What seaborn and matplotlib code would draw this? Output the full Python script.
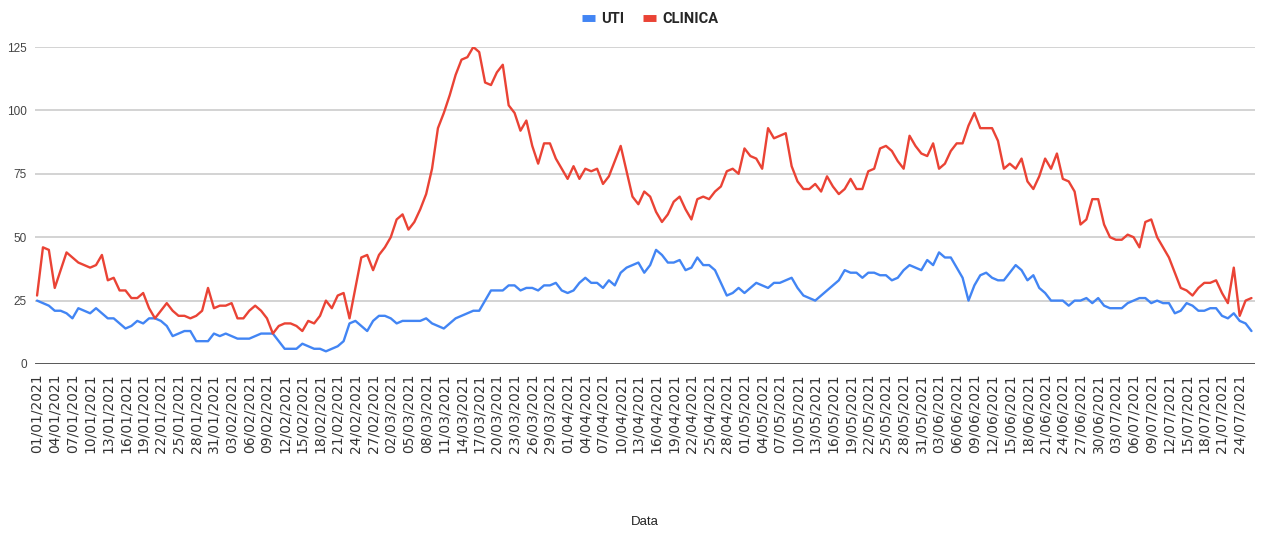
import matplotlib
matplotlib.use("Agg")
import pandas as pd
import matplotlib.pyplot as plt
from matplotlib.lines import Line2D
import seaborn as sns

# série diária a partir de 01/01/2021
INICIO = "2021-01-01"

uti = [
    25, 24, 23, 21, 21, 20, 18, 22, 21, 20, 22, 20, 18, 18, 16, 14, 15, 17, 16, 18,
    18, 17, 15, 11, 12, 13, 13, 9, 9, 9, 12, 11, 12, 11, 10, 10, 10, 11, 12, 12,
    12, 9, 6, 6, 6, 8, 7, 6, 6, 5, 6, 7, 9, 16, 17, 15, 13, 17, 19, 19, 18,
    16, 17, 17, 17, 17, 18, 16, 15, 14, 16, 18, 19, 20, 21, 21, 25, 29, 29, 29, 31, 31,
    29, 30, 30, 29, 31, 31, 32, 29, 28, 29, 32, 34, 32, 32, 30, 33, 31, 36, 38, 39,
    40, 36, 39, 45, 43, 40, 40, 41, 37, 38, 42, 39, 39, 37, 32, 27, 28, 30, 28, 30,
    32, 31, 30, 32, 32, 33, 34, 30, 27, 26, 25, 27, 29, 31, 33, 37, 36, 36, 34, 36,
    36, 35, 35, 33, 34, 37, 39, 38, 37, 41, 39, 44, 42, 42, 38, 34, 25, 31, 35, 36,
    34, 33, 33, 36, 39, 37, 33, 35, 30, 28, 25, 25, 25, 23, 25, 25, 26, 24, 26, 23,
    22, 22, 22, 24, 25, 26, 26, 24, 25, 24, 24, 20, 21, 24, 23, 21, 21, 22, 22, 19,
    18, 20, 17, 16, 13,
]

clinica = [
    27, 46, 45, 30, 37, 44, 42, 40, 39, 38, 39, 43, 33, 34, 29, 29, 26, 26, 28, 22,
    18, 21, 24, 21, 19, 19, 18, 19, 21, 30, 22, 23, 23, 24, 18, 18, 21, 23, 21, 18,
    12, 15, 16, 16, 15, 13, 17, 16, 19, 25, 22, 27, 28, 18, 30, 42, 43, 37, 43, 46, 50,
    57, 59, 53, 56, 61, 67, 77, 93, 99, 106, 114, 120, 121, 125, 123, 111, 110, 115, 118, 102, 99,
    92, 96, 86, 79, 87, 87, 81, 77, 73, 78, 73, 77, 76, 77, 71, 74, 80, 86, 76, 66,
    63, 68, 66, 60, 56, 59, 64, 66, 61, 57, 65, 66, 65, 68, 70, 76, 77, 75, 85, 82,
    81, 77, 93, 89, 90, 91, 78, 72, 69, 69, 71, 68, 74, 70, 67, 69, 73, 69, 69, 76,
    77, 85, 86, 84, 80, 77, 90, 86, 83, 82, 87, 77, 79, 84, 87, 87, 94, 99, 93, 93,
    93, 88, 77, 79, 77, 81, 72, 69, 74, 81, 77, 83, 73, 72, 68, 55, 57, 65, 65, 55,
    50, 49, 49, 51, 50, 46, 56, 57, 50, 46, 42, 36, 30, 29, 27, 30, 32, 32, 33, 28,
    24, 38, 19, 25, 26,
]

series = ["UTI", "CLINICA"]
cores = {"UTI": "#4285F4", "CLINICA": "#EA4335"}
y_ticks = [0, 25, 50, 75, 100, 125]

datas = pd.date_range(INICIO, periods=len(uti)).strftime("%d/%m/%Y")

df = pd.DataFrame({"idx": range(len(uti)), "UTI": uti, "CLINICA": clinica})
df = df.melt(id_vars="idx", var_name="serie", value_name="valor")

sns.set_theme(style="white")
plt.rcParams['font.family'] = ['Liberation Sans', 'DejaVu Sans']

W, H = 1266, 533
fig = plt.figure(figsize=(W / 100, H / 100), dpi=100)
ax = fig.add_axes([35 / W, (H - 364) / H, 1220 / W, (364 - 47) / H])

sns.lineplot(data=df, x="idx", y="valor", hue="serie", hue_order=series,
             palette=cores, linewidth=1.7, legend=False, ax=ax)

ax.set_ylim(0, 125)
ax.set_yticks(y_ticks)
ax.yaxis.grid(True, color="#d0d0d0", linewidth=1.3)
ax.set_axisbelow(True)
ax.axhline(0, color="#333333", linewidth=1.8, zorder=1)
for s in ax.spines.values():
    s.set_visible(False)

ax.set_xlim(-0.35, len(uti) - 1 + 0.6)
ax.set_xticks(range(0, len(uti), 3))
ax.set_xticklabels(datas[::3], rotation=90, fontsize=10, color="#333333",
                   family=["DejaVu Sans"])
ax.tick_params(axis="x", length=0, pad=7)
ax.tick_params(axis="y", length=0, pad=6, labelsize=8.5, labelcolor="#444444")
ax.set_xlabel("")
ax.set_ylabel("")

fig.text(645 / W, 1 - 522 / H, "Data", ha="center", va="center",
         fontsize=9.5, color="#222222")

handles = [Line2D([0], [0], color=cores[s], linewidth=5, solid_capstyle="butt") for s in series]
fig.legend(handles, series, loc="center", bbox_to_anchor=(650 / W, 1 - 19 / H),
           ncol=2, frameon=False, handlelength=0.9, handletextpad=0.4, columnspacing=1.3,
           prop={"family": ["Roboto", "DejaVu Sans"], "weight": "bold", "size": 10.5})

fig.savefig("out.png", dpi=100)
